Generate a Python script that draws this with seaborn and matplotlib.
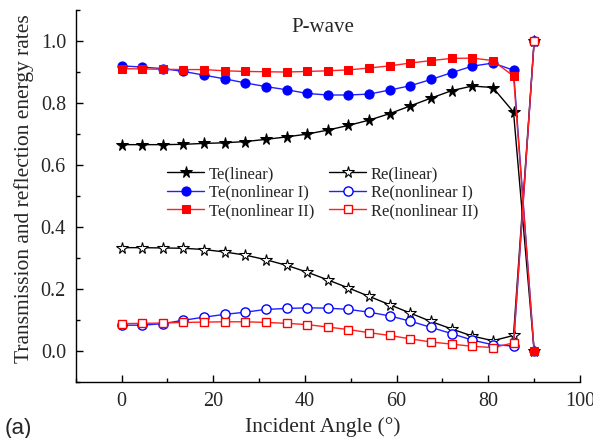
import numpy as np
import pandas as pd
import matplotlib
matplotlib.use("Agg")
import matplotlib.pyplot as plt
import seaborn as sns
from matplotlib.ticker import MultipleLocator

angles = [0, 4.5, 9, 13.5, 18, 22.5, 27, 31.5, 36, 40.5, 45, 49.5, 54, 58.5,
          63, 67.5, 72, 76.5, 81, 85.5, 90]

te_linear = [0.666, 0.666, 0.666, 0.667, 0.670, 0.672, 0.676, 0.683, 0.691, 0.700,
             0.713, 0.728, 0.745, 0.766, 0.791, 0.816, 0.840, 0.855, 0.850, 0.771, 0.0]
re_linear = [0.334, 0.334, 0.333, 0.332, 0.328, 0.320, 0.310, 0.295, 0.277, 0.255,
             0.230, 0.204, 0.177, 0.150, 0.123, 0.096, 0.072, 0.049, 0.034, 0.051, 1.0]
te_nl1 = [0.920, 0.916, 0.911, 0.902, 0.890, 0.878, 0.865, 0.853, 0.843, 0.831,
          0.826, 0.826, 0.829, 0.842, 0.856, 0.876, 0.898, 0.919, 0.929, 0.906, 0.0]
re_nl1 = [0.084, 0.084, 0.089, 0.100, 0.110, 0.119, 0.126, 0.135, 0.138, 0.140,
          0.139, 0.135, 0.126, 0.114, 0.097, 0.077, 0.057, 0.036, 0.021, 0.017, 1.0]
te_nl2 = [0.911, 0.910, 0.909, 0.908, 0.908, 0.904, 0.902, 0.901, 0.900, 0.902,
          0.904, 0.907, 0.913, 0.920, 0.929, 0.937, 0.944, 0.945, 0.937, 0.887, 0.0]
re_nl2 = [0.089, 0.090, 0.091, 0.093, 0.094, 0.095, 0.095, 0.093, 0.090, 0.086,
          0.078, 0.070, 0.060, 0.051, 0.040, 0.030, 0.023, 0.016, 0.012, 0.027, 1.0]

series_names = ["Te(linear)", "Re(linear)", "Te(nonlinear I)", "Re(nonlinear I)",
                "Te(nonlinear II)", "Re(nonlinear II)"]
x_ticks = [0, 20, 40, 60, 80, 100]
y_ticks = [0.0, 0.2, 0.4, 0.6, 0.8, 1.0]
y_tick_labels = ["0.0", "0.2", "0.4", "0.6", "0.8", "1.0"]

df = pd.DataFrame({"angle": angles,
                   "Te(linear)": te_linear, "Re(linear)": re_linear,
                   "Te(nonlinear I)": te_nl1, "Re(nonlinear I)": re_nl1,
                   "Te(nonlinear II)": te_nl2, "Re(nonlinear II)": re_nl2})

sns.set_theme(style="ticks")
plt.rcParams['font.family'] = ['Liberation Serif', 'DejaVu Serif']

fig = plt.figure(figsize=(5.93, 4.38), dpi=100)
ax_left, ax_right, ax_top, ax_bottom = 75.7, 580.0, 10.0, 382.3
ax = fig.add_axes([ax_left / 593, 1 - ax_bottom / 438,
                   (ax_right - ax_left) / 593, (ax_bottom - ax_top) / 438])
aw, ah = ax_right - ax_left, ax_bottom - ax_top

styles = {
    "Te(linear)": dict(color="black", marker="*", ms=8.5, mfc="black", mec="black"),
    "Re(linear)": dict(color="black", marker="*", ms=8.5, mfc="white", mec="black", mew=0.8),
    "Te(nonlinear I)": dict(color="#2020ff", marker="o", ms=6.6, mfc="#0000ff", mec="#0000ff"),
    "Re(nonlinear I)": dict(color="#2020ff", marker="o", ms=6.6, mfc="white", mec="#0000ff", mew=1.0),
    "Te(nonlinear II)": dict(color="#ff2020", marker="s", ms=6.0, mfc="#ff0000", mec="#ff0000"),
    "Re(nonlinear II)": dict(color="#ff2020", marker="s", ms=6.0, mfc="white", mec="#ff0000", mew=1.0),
}

for name in series_names:
    sns.lineplot(data=df, x="angle", y=name, ax=ax, lw=1.0, label=name,
                 **styles[name])

ax.set_xlim(-10, 100)
ax.set_ylim(-0.1, 1.1)
ax.set_xticks(x_ticks)
ax.set_xticklabels([str(v) for v in x_ticks])
ax.xaxis.set_minor_locator(MultipleLocator(10))
ax.set_yticks(y_ticks)
ax.set_yticklabels(y_tick_labels)
ax.yaxis.set_minor_locator(MultipleLocator(0.1))
ax.tick_params(which="major", direction="in", length=5, width=1.0, labelsize=14.5,
               color="black", pad=7)
ax.tick_params(which="minor", direction="in", length=3, width=1.0, color="black")
for side in ["top", "right"]:
    ax.spines[side].set_visible(False)
for side in ["left", "bottom"]:
    ax.spines[side].set_color("black")
    ax.spines[side].set_linewidth(1.0)

ax.set_xlabel("Incident Angle (°)", fontsize=15.5)
ax.set_ylabel("Transmission and reflection energy rates", fontsize=15.5)
# label centres in figure pixels: xlabel (323, 427), ylabel (24, 189)
ax.xaxis.set_label_coords((323 - ax_left) / aw, (ax_bottom - 427) / ah)
ax.yaxis.set_label_coords((24 - ax_left) / aw, (ax_bottom - 189) / ah)
ax.xaxis.label.set_va("center")
ax.yaxis.label.set_va("center")
ax.text(0.49, 0.952, "P-wave", transform=ax.transAxes, ha="center", va="center", fontsize=15)

handles, labels = ax.get_legend_handles_labels()
order = [0, 2, 4, 1, 3, 5]
ax.legend([handles[i] for i in order], [labels[i] for i in order], ncol=2,
          loc="center", bbox_to_anchor=(0.49, 0.509), frameon=False, fontsize=12,
          handlelength=2.2, handletextpad=0.3, columnspacing=0.9, labelspacing=0.15,
          borderpad=0)

fig.text(0.008, 0.022, "(a)", fontsize=16, family="Liberation Sans", ha="left", va="center")

fig.savefig("out.png", dpi=100)
